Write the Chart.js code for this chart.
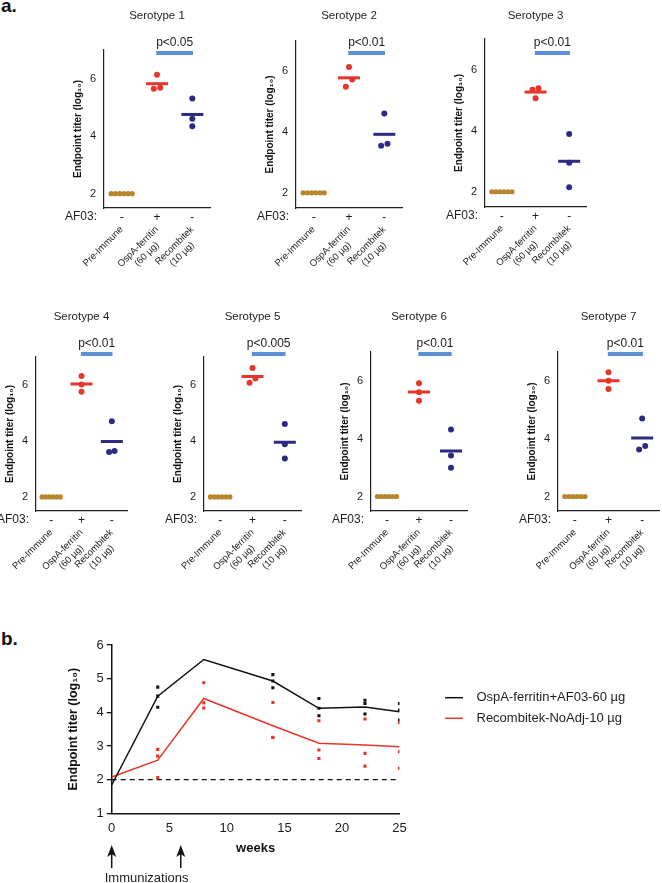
<!DOCTYPE html>
<html>
<head>
<meta charset="utf-8">
<script src="https://cdn.jsdelivr.net/npm/chart.js@4.4.1/dist/chart.umd.min.js"></script>
<style>
  body { margin: 0; background: #fff; }
  #page { position: relative; width: 662px; height: 883px; overflow: hidden; font-family: 'Liberation Sans', Arial, sans-serif; }
  #page canvas { position: absolute; }
  .tag { position: absolute; font-weight: bold; font-size: 19px; line-height: 19px; color: #111; }
</style>
</head>
<body>
<div id="page">
  <div class="tag" style="left:1px;top:-4px">a.</div>
  <div class="tag" style="left:1px;top:629px">b.</div>
</div>
<script>
// ---- a. endpoint titers per serotype ----
const serotypes = ['Serotype 1', 'Serotype 2', 'Serotype 3', 'Serotype 4', 'Serotype 5', 'Serotype 6', 'Serotype 7'];
const pLabels = ['p<0.05', 'p<0.01', 'p<0.01', 'p<0.01', 'p<0.005', 'p<0.01', 'p<0.01'];
const groupLabels = [['Pre-Immune'], ['OspA-ferritin', '(60 µg)'], ['Recombitek', '(10 µg)']];
const af03Signs = ['-', '+', '-'];
const panelTicks = [2, 4, 6];
const preImmune = [2, 2, 2, 2, 2, 2];
const ospFerritin = [
	[6.14, 5.65, 5.69],
	[6.14, 5.49, 5.73],
	[5.39, 5.34, 5.06],
	[6.31, 6.01, 5.75],
	[6.60, 6.07, 6.22],
	[5.91, 5.60, 5.31],
	[6.29, 6.00, 5.71]
];
const recombitek = [
	[5.31, 4.61, 4.35],
	[4.61, 3.55, 3.62],
	[3.89, 2.95, 2.15],
	[4.70, 3.60, 3.64],
	[4.60, 3.88, 3.37],
	[4.31, 3.42, 2.99],
	[4.69, 3.62, 3.74]
];

// ---- b. time course ----
const weeks = [0, 4, 8, 14, 18, 22, 25];
const weekTicks = [0, 5, 10, 15, 20, 25];
const titerTicks = [1, 2, 3, 4, 5, 6];
const seriesNames = ['OspA-ferritin+AF03-60 µg', 'Recombitek-NoAdj-10 µg'];
const ospMean = [1.84, 4.48, 5.57, 4.93, 4.12, 4.16, 4.02];
const recMean = [2.08, 2.58, 4.41, 3.60, 3.08, 3.03, 2.98];
const ospAnimals = [[], [4.75, 4.48, 4.15], [], [5.12, 4.93, 4.73], [4.41, 4.12, 3.90], [4.36, 4.26, 3.95], [4.26, 4.07, 3.77]];
const recAnimals = [[], [2.90, 2.70, 2.06], [4.88, 4.28, 4.13], [4.29, 3.26, 3.25], [3.75, 2.88, 2.63], [3.80, 2.78, 2.40], [3.69, 2.83, 2.34]];
const detectionLimit = 2;
const immunizationWeeks = [0, 6];

const FONT = "'Liberation Sans', Arial, sans-serif";
const TEXT = '#1d1d1d';
const RED = '#e6352b';
const NAVY = '#2c2b80';
const GOLD = '#b8862c';
const PBLUE = '#5b8fd6';

Chart.defaults.font.family = FONT;
Chart.defaults.color = TEXT;

// panel frames on the page (axis left/right, top/bottom)
const panelBoxes = [
	{L: 104, R: 212, T: 50, B: 208},
	{L: 296, R: 404, T: 41, B: 208},
	{L: 485, R: 588, T: 39, B: 207},
	{L: 36, R: 129, T: 356.7, B: 511.7},
	{L: 204, R: 303, T: 356.7, B: 511.7},
	{L: 371, R: 469, T: 351.7, B: 511.7},
	{L: 558, R: 661, T: 351.7, B: 511.7}
];

function mean(values) {
	return values.reduce((a, b) => a + b, 0) / values.length;
}

// spread overlapping dots sideways, lowest on the left
function dodge(values, center) {
	const order = values.map((v, i) => i).sort((a, b) => values[a] - values[b]);
	const xs = values.map(() => center);
	let start = 0;
	for (let k = 1; k <= order.length; k++) {
		if (k === order.length || values[order[k]] - values[order[k - 1]] > 0.25) {
			const n = k - start;
			if (n > 1) {
				const step = Math.min(0.18, 0.6 / (n - 1));
				for (let j = start; j < k; j++) {
					xs[order[j]] = center + (j - start - (n - 1) / 2) * step;
				}
			}
			start = k;
		}
	}
	return values.map((v, i) => ({x: xs[i], y: v}));
}

// rotated tick labels are right aligned; pad the short lines so they sit centred
const measureCtx = document.createElement('canvas').getContext('2d');
function centerLines(lines, size) {
	measureCtx.font = size + 'px ' + FONT;
	const w0 = measureCtx.measureText(lines[0]).width;
	const sp = measureCtx.measureText(' ').width;
	return lines.map((line, k) => {
		if (k === 0) return line;
		const n = Math.round((w0 - measureCtx.measureText(line).width) / 2 / sp);
		return line + ' '.repeat(Math.max(n, 0));
	});
}

function dotSet(values, group, color, radius) {
	return {
		data: dodge(values, group),
		pointRadius: radius,
		pointBackgroundColor: color,
		pointBorderWidth: 0
	};
}

function meanSet(values, group, color) {
	return {
		data: [{x: group, y: mean(values)}],
		pointStyle: 'line',
		pointRadius: 11,
		pointBorderColor: color,
		pointBorderWidth: 3
	};
}

function fixedTicks(list) {
	return scale => { scale.ticks = list.map(v => ({value: v})); };
}

const pBarPlugin = {
	id: 'pBar',
	afterDraw(chart, args, opts) {
		const {ctx, chartArea, scales: {x}} = chart;
		const y = 53;
		ctx.save();
		ctx.strokeStyle = PBLUE;
		ctx.lineWidth = 4;
		ctx.beginPath();
		ctx.moveTo(x.getPixelForValue(1.98), y);
		ctx.lineTo(x.getPixelForValue(3.02), y);
		ctx.stroke();
		ctx.fillStyle = TEXT;
		ctx.font = '12px ' + FONT;
		ctx.textAlign = 'center';
		ctx.textBaseline = 'middle';
		ctx.fillText(opts.text, x.getPixelForValue(2.5), y - 10);
		ctx.textAlign = 'right';
		ctx.fillText('AF03:', chartArea.left - 7, chartArea.bottom + 9);
		ctx.restore();
	}
};

function drawPanel(i) {
	const box = panelBoxes[i];
	const top = i < 3 ? 0 : 301;
	const canvas = document.createElement('canvas');
	canvas.width = box.R - box.L + 82;
	canvas.height = box.B - top + 100;
	canvas.style.left = (box.L - 70) + 'px';
	canvas.style.top = top + 'px';
	document.getElementById('page').appendChild(canvas);

	new Chart(canvas, {
		type: 'scatter',
		data: {
			datasets: [
				meanSet(ospFerritin[i], 2, RED),
				meanSet(recombitek[i], 3, NAVY),
				dotSet(preImmune, 1, GOLD, 2.6),
				dotSet(ospFerritin[i], 2, RED, 3),
				dotSet(recombitek[i], 3, NAVY, 3)
			]
		},
		options: {
			responsive: false,
			animation: false,
			layout: { padding: { left: 38, right: 12, top: 0, bottom: 9 } },
			plugins: {
				legend: { display: false },
				tooltip: { enabled: false },
				title: {
					display: true,
					text: serotypes[i],
					fullSize: false,
					color: TEXT,
					font: { size: 11.5, weight: 'normal' },
					padding: { top: 9.3, bottom: box.T - top - 23.1 }
				},
				pBar: { text: pLabels[i] }
			},
			scales: {
				y: {
					min: 1.5,
					max: 7,
					afterBuildTicks: fixedTicks(panelTicks),
					afterFit: s => { s.width = 32; s.paddingTop = 0; s.paddingBottom = 0; },
					grid: { display: false, drawTicks: false },
					border: { color: '#222', width: 1.2 },
					ticks: { padding: 8, font: { size: 11 } },
					title: {
						display: true,
						text: 'Endpoint titer (log₁₀)',
						color: '#111',
						font: { size: 10, weight: 'bold' },
						padding: 0
					}
				},
				x: {
					min: 0.5,
					max: 3.5,
					afterBuildTicks: fixedTicks([1, 2, 3]),
					afterFit: s => { s.height = 16; s.paddingLeft = 0; s.paddingRight = 0; },
					grid: { display: false, drawTicks: false },
					border: { color: '#222', width: 1.2 },
					ticks: {
						callback: (v, idx) => af03Signs[idx],
						font: { size: 12 },
						padding: 2,
						maxRotation: 0,
						autoSkip: false
					}
				},
				x2: {
					type: 'linear',
					position: 'bottom',
					min: 0.5,
					max: 3.5,
					afterBuildTicks: fixedTicks([1, 2, 3]),
					afterFit: s => { s.height = 75; s.paddingLeft = 0; s.paddingRight = 0; },
					grid: { display: false, drawTicks: false },
					border: { display: false },
					ticks: {
						callback: (v, idx) => centerLines(groupLabels[idx], 9.5),
						font: { size: 9.5 },
						padding: 0,
						minRotation: 45,
						maxRotation: 45,
						autoSkip: false
					}
				}
			}
		},
		plugins: [pBarPlugin]
	});
}

serotypes.forEach((name, i) => drawPanel(i));

// ---- b. ----
function animalPoints(groups) {
	const pts = [];
	groups.forEach((vals, k) => vals.forEach(v => pts.push({x: weeks[k], y: v})));
	return pts;
}

const extrasPlugin = {
	id: 'extras',
	afterDraw(chart) {
		const {ctx, chartArea, scales: {x}} = chart;
		ctx.save();
		ctx.font = '13px ' + FONT;
		ctx.textBaseline = 'middle';
		ctx.textAlign = 'left';
		chart.data.datasets.slice(0, 2).forEach((ds, k) => {
			const ly = chartArea.top + 52.7 + k * 20.6;
			ctx.strokeStyle = ds.borderColor;
			ctx.lineWidth = 1.5;
			ctx.beginPath();
			ctx.moveTo(chartArea.right + 45.5, ly);
			ctx.lineTo(chartArea.right + 63.5, ly);
			ctx.stroke();
			ctx.fillStyle = TEXT;
			ctx.fillText(ds.label, chartArea.right + 77, ly);
		});
		immunizationWeeks.forEach(w => {
			const ax = x.getPixelForValue(w);
			const tip = chartArea.bottom + 31.7;
			const tail = chartArea.bottom + 54.7;
			ctx.strokeStyle = '#111';
			ctx.fillStyle = '#111';
			ctx.lineWidth = 1.5;
			ctx.beginPath();
			ctx.moveTo(ax, tail);
			ctx.lineTo(ax, tip + 8);
			ctx.stroke();
			ctx.beginPath();
			ctx.moveTo(ax, tip);
			ctx.lineTo(ax - 4.5, tip + 12);
			ctx.lineTo(ax, tip + 9);
			ctx.lineTo(ax + 4.5, tip + 12);
			ctx.closePath();
			ctx.fill();
		});
		ctx.fillStyle = TEXT;
		ctx.fillText('Immunizations', x.getPixelForValue(0) - 7, chartArea.bottom + 64.7);
		ctx.restore();
	}
};

function getTimeCourse() {
	const canvas = document.createElement('canvas');
	canvas.width = 662;
	canvas.height = 253;
	canvas.style.left = '0px';
	canvas.style.top = '630px';
	document.getElementById('page').appendChild(canvas);

	new Chart(canvas, {
		type: 'scatter',
		data: {
			datasets: [{
				label: seriesNames[0],
				data: weeks.map((w, i) => ({x: w, y: ospMean[i]})),
				showLine: true,
				borderColor: '#111',
				borderWidth: 1.5,
				pointRadius: 0
			}, {
				label: seriesNames[1],
				data: weeks.map((w, i) => ({x: w, y: recMean[i]})),
				showLine: true,
				borderColor: RED,
				borderWidth: 1.5,
				pointRadius: 0
			}, {
				data: animalPoints(ospAnimals),
				pointStyle: 'rect',
				pointRadius: 2.2,
				pointBackgroundColor: '#111',
				pointBorderWidth: 0
			}, {
				data: animalPoints(recAnimals),
				pointStyle: 'rect',
				pointRadius: 2.2,
				pointBackgroundColor: RED,
				pointBorderWidth: 0
			}, {
				data: [{x: weeks[0], y: detectionLimit}, {x: weeks[weeks.length - 1], y: detectionLimit}],
				showLine: true,
				borderColor: '#111',
				borderWidth: 1.3,
				borderDash: [5, 4],
				pointRadius: 0
			}]
		},
		options: {
			responsive: false,
			animation: false,
			layout: { padding: { left: 60, right: 262.5, top: 15, bottom: 24.7 } },
			plugins: {
				legend: { display: false },
				tooltip: { enabled: false }
			},
			scales: {
				x: {
					min: 0,
					max: 25,
					afterBuildTicks: fixedTicks(weekTicks),
					afterFit: s => { s.height = 45; },
					grid: { display: false, drawTicks: false },
					border: { color: '#111', width: 1.5 },
					ticks: { padding: 7, font: { size: 13 } },
					title: {
						display: true,
						text: 'weeks',
						color: '#111',
						font: { size: 13, weight: 'bold' },
						padding: { top: 0, bottom: 2 }
					}
				},
				y: {
					min: 1,
					max: 6,
					afterBuildTicks: fixedTicks(titerTicks),
					afterFit: s => { s.width = 51.7; },
					grid: { display: true, drawOnChartArea: false, drawTicks: true, tickLength: 5, color: '#111', lineWidth: 1.3 },
					border: { color: '#111', width: 1.5 },
					ticks: { padding: 3, font: { size: 13 } },
					title: {
						display: true,
						text: 'Endpoint titer (log₁₀)',
						color: '#111',
						font: { size: 12.5, weight: 'bold' },
						padding: { top: 6.5, bottom: 0 }
					}
				}
			}
		},
		plugins: [extrasPlugin]
	});
}

getTimeCourse();
</script>
</body>
</html>
